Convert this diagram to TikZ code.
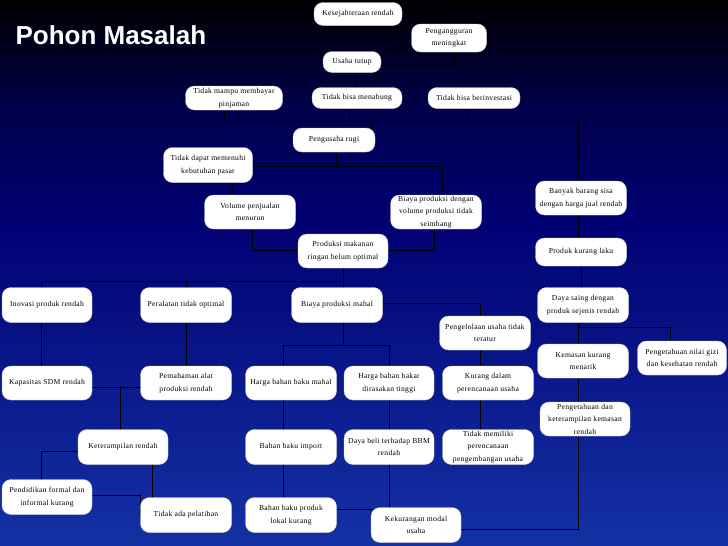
\documentclass[tikz,border=0pt]{standalone}
\usepackage{fontspec}
\setmainfont{Liberation Serif}[LetterSpace=4]
\newfontfamily\titlefont{Liberation Sans}
\pgfdeclarelayer{bg}
\pgfdeclarelayer{back}
\pgfsetlayers{back,bg,main}
\tikzset{bx/.style={fill=white,draw=gray!40,rounded corners=9pt,align=center,inner xsep=0pt,inner ysep=1pt,font=\fontsize{7.6}{12.5}\selectfont},
ln/.style={draw=black,line width=0.9pt}}
\newcommand\bx[6]{\node[bx,minimum width=#4pt,minimum height=#5pt] (#1) at (#2,#3) {#6};}
\begin{document}
\begin{tikzpicture}[x=1pt,y=-1pt]
\begin{pgfonlayer}{back}
\shade[top color=black,bottom color=blue!45!black,middle color=blue!30!black] (0,0) rectangle (728,220);
\shade[top color=blue!45!black,bottom color={rgb,255:red,20;green,50;blue,165}] (0,219.5) rectangle (728,546);
\end{pgfonlayer}
\useasboundingbox (0,0) rectangle (728,546);
\node[anchor=west,text=white,font=\titlefont\bfseries\fontsize{26}{30}\selectfont] (title) at (12,35) {Pohon Masalah};
\bx{kes}{358}{14}{88}{23}{Kesejahteraan rendah}
\bx{pen}{449}{38}{75}{28}{Pengangguran\\meningkat}
\bx{ust}{352}{62}{58}{21}{Usaha tutup}
\bx{tmm}{234}{98}{97}{24}{Tidak mampu membayar\\pinjaman}
\bx{tbm}{357}{98}{90}{21}{Tidak bisa menabung}
\bx{tbb}{474}{98}{92}{21}{Tidak bisa berinvestasi}
\bx{pru}{334}{140}{82}{24}{Pengusaha rugi}
\bx{tdm}{208}{165}{89}{35}{Tidak dapat memenuhi\\kebutuhan pasar}
\bx{vol}{250}{212}{91}{34}{Volume penjualan\\menurun}
\bx{bpd}{436}{212}{91}{34}{Biaya produksi dengan\\volume produksi tidak\\seimbang}
\bx{bbs}{581}{198}{91}{34}{Banyak barang sisa\\dengan harga jual rendah}
\bx{pkl}{581}{252}{91}{28}{Produk kurang laku}
\bx{pmr}{343}{251}{90}{34}{Produksi makanan\\ringan belum optimal}
\bx{ino}{47}{305}{90}{35}{Inovasi produk rendah}
\bx{per}{186}{305}{91}{35}{Peralatan tidak optimal}
\bx{bpm}{337}{305}{91}{35}{Biaya produksi mahal}
\bx{dsg}{583}{305}{91}{35}{Daya saing dengan\\produk sejenis rendah}
\bx{pgl}{485}{333}{91}{34}{Pengelolaan usaha tidak\\teratur}
\bx{kkm}{583}{361}{91}{34}{Kemasan kurang\\menarik}
\bx{png}{682}{358}{89}{34}{Pengetahuan nilai gizi\\dan kesehatan rendah}
\bx{kap}{47}{383}{90}{34}{Kapasitas SDM rendah}
\bx{pem}{186}{383}{91}{34}{Pemahaman alat\\produksi rendah}
\bx{hbm}{291}{383}{91}{34}{Harga bahan baku mahal}
\bx{hbk}{389}{383}{90}{34}{Harga bahan bakar\\dirasakan tinggi}
\bx{kdp}{488}{383}{91}{34}{Kurang dalam\\perencanaan usaha}
\bx{pdk}{585}{419}{90}{34}{Pengetahuan dan\\keterampilan kemasan\\rendah}
\bx{ktr}{123}{447}{90}{35}{Keterampilan rendah}
\bx{bbi}{291}{447}{91}{35}{Bahan baku import}
\bx{dbb}{389}{447}{90}{35}{Daya beli terhadap BBM\\rendah}
\bx{tmp}{488}{447}{91}{35}{Tidak memiliki\\perencanaan\\pengembangan usaha}
\bx{pfi}{47}{497}{90}{35}{Pendidikan formal dan\\informal kurang}
\bx{tap}{186}{515}{91}{35}{Tidak ada pelatihan}
\bx{bbl}{291}{515}{91}{35}{Bahan baku produk\\lokal kurang}
\bx{kmu}{416}{525}{90}{35}{Kekurangan modal\\usaha}
\begin{pgfonlayer}{bg}
\draw[ln] (kes.east|-0,10) -- (447,10) -- (447,38);
\draw[ln] (ust.east|-0,65) -- (454,65) -- (454,38);
\draw[ln] (355,62) -- (355,98);
\draw[ln] (224,98) -- (224,121) -- (578,121);
\draw[ln] (349,98) -- (349,121);
\draw[ln] (467,98) -- (467,121);
\draw[ln] (372,121) -- (372,140);
\draw[ln] (578,121) -- (578,198);
\draw[ln] (336,140) -- (336,166);
\draw[ln] (tdm.center|-0,166) -- (442,166) -- (442,212);
\draw[ln] (232,165) -- (232,212);
\draw[ln] (252,212) -- (252,250) -- (434,250) -- (434,212);
\draw[ln] (578,198) -- (578,252);
\draw[ln] (581,252) -- (581,305);
\draw[ln] (343,251) -- (343,281);
\draw[ln] (41,305) -- (41,281) -- (343,281);
\draw[ln] (186,281) -- (186,383);
\draw[ln] (343,281) -- (343,345);
\draw[ln] (41,305) -- (41,383);
\draw[ln] (bpm.center|-0,303) -- (480,303) -- (480,447);
\draw[ln] (283,383) -- (283,345) -- (389,345) -- (389,525);
\draw[ln] (283,383) -- (283,515);
\draw[ln] (578,305) -- (578,327) -- (670,327) -- (670,358);
\draw[ln] (578,305) -- (578,529) -- (kmu.center|-0,529);
\draw[ln] (47,387) -- (186,387);
\draw[ln] (120,387) -- (120,447);
\draw[ln] (123,451) -- (41,451) -- (41,497);
\draw[ln] (152,447) -- (152,515);
\draw[ln] (47,495) -- (140,495) -- (140,515);
\draw[ln] (291,509) -- (416,509);
\end{pgfonlayer}
\end{tikzpicture}
\end{document}
